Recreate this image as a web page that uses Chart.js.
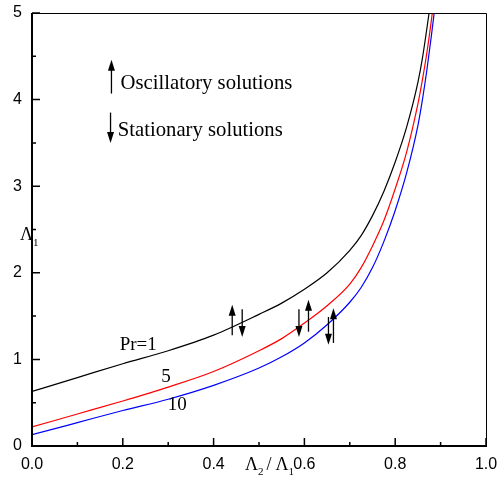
<!DOCTYPE html>
<html lang="en">
<head>
<meta charset="UTF-8">
<title>Lambda1 vs Lambda2 / Lambda1</title>
<script src="https://cdn.jsdelivr.net/npm/chart.js"></script>
<style>
  html, body { margin: 0; padding: 0; background: #fff; }
  #wrap { width: 499px; height: 479px; }
</style>
</head>
<body>
<div id="wrap"><canvas id="stability"></canvas></div>
<script>
// abscissa: Lambda2 / Lambda1
const ratio = [0, 0.1, 0.2, 0.3, 0.4, 0.5, 0.55, 0.6, 0.65, 0.7, 0.725, 0.75, 0.775, 0.8, 0.825, 0.85, 0.86, 0.87, 0.88, 0.89];
// Lambda1 for each Prandtl number
const prOne  = [0.63, 0.79, 0.95, 1.10, 1.28, 1.52, 1.65, 1.81, 2.00, 2.26, 2.43, 2.66, 2.94, 3.28, 3.68, 4.20, 4.48, 4.83, 5.20, 5.60];
const prFive = [0.22, 0.37, 0.52, 0.68, 0.86, 1.10, 1.24, 1.42, 1.62, 1.87, 2.06, 2.31, 2.60, 2.97, 3.39, 3.95, 4.23, 4.55, 4.93, 5.35];
const prTen  = [0.13, 0.27, 0.41, 0.54, 0.70, 0.90, 1.03, 1.19, 1.40, 1.66, 1.83, 2.06, 2.36, 2.72, 3.15, 3.70, 4.00, 4.35, 4.75, 5.18];

const xTicks = [0, 0.2, 0.4, 0.6, 0.8, 1.0];
const yTicks = [0, 1, 2, 3, 4, 5];

// arrows: [x, tail y, tip y]
const arrowMarks = [
  [0.441, 1.28, 1.63], [0.463, 1.58, 1.26],
  [0.588, 1.58, 1.26], [0.609, 1.32, 1.69],
  [0.653, 1.49, 1.17], [0.664, 1.19, 1.59]
];
const keyArrows = [[0.175, 4.07, 4.46], [0.173, 3.85, 3.50]];
const keyTexts = [['Oscillatory solutions', 0.195, 4.18], ['Stationary solutions', 0.189, 3.64]];
const curveLabels = [['Pr=1', 0.234, 1.17], ['5', 0.295, 0.80], ['10', 0.32, 0.47]];

function pts(ys) { return ratio.map((x, i) => ({ x: x, y: ys[i] })); }

function arrow(ctx, x, y0, y1) {
  const dir = Math.sign(y1 - y0);
  ctx.beginPath();
  ctx.moveTo(x, y0);
  ctx.lineTo(x, y1 - dir * 8);
  ctx.stroke();
  ctx.beginPath();
  ctx.moveTo(x, y1);
  ctx.lineTo(x - 3.5, y1 - dir * 11);
  ctx.lineTo(x + 3.5, y1 - dir * 11);
  ctx.closePath();
  ctx.fill();
}

const frame = {
  id: 'frame',
  afterDraw(chart) {
    const ctx = chart.ctx, a = chart.chartArea;
    const xs = chart.scales.x, ys = chart.scales.y;
    ctx.save();
    ctx.strokeStyle = '#000';
    ctx.fillStyle = '#000';

    // thin top / right border
    ctx.lineWidth = 1;
    ctx.beginPath();
    ctx.moveTo(a.left, a.top + 0.5);
    ctx.lineTo(a.right + 0.5, a.top + 0.5);
    ctx.lineTo(a.right + 0.5, a.bottom);
    ctx.stroke();

    // heavier left / bottom axes
    ctx.lineWidth = 2;
    ctx.beginPath();
    ctx.moveTo(a.left, a.top);
    ctx.lineTo(a.left, a.bottom);
    ctx.lineTo(a.right + 1, a.bottom);
    ctx.stroke();

    // inward ticks, majors and halfway minors
    ctx.lineWidth = 1.5;
    ctx.beginPath();
    for (let i = 0; i < xTicks.length; i++) {
      const px = xs.getPixelForValue(xTicks[i]);
      ctx.moveTo(px, a.bottom); ctx.lineTo(px, a.bottom - 8);
      if (i < xTicks.length - 1) {
        const pm = xs.getPixelForValue((xTicks[i] + xTicks[i + 1]) / 2);
        ctx.moveTo(pm, a.bottom); ctx.lineTo(pm, a.bottom - 4);
      }
    }
    for (let i = 0; i < yTicks.length; i++) {
      const py = ys.getPixelForValue(yTicks[i]);
      ctx.moveTo(a.left, py); ctx.lineTo(a.left + 8, py);
      if (i < yTicks.length - 1) {
        const pm = ys.getPixelForValue((yTicks[i] + yTicks[i + 1]) / 2);
        ctx.moveTo(a.left, pm); ctx.lineTo(a.left + 4, pm);
      }
    }
    ctx.stroke();

    // arrows
    ctx.lineWidth = 1.3;
    arrowMarks.concat(keyArrows).forEach(m => {
      arrow(ctx, xs.getPixelForValue(m[0]), ys.getPixelForValue(m[1]), ys.getPixelForValue(m[2]));
    });

    // key texts and curve labels
    ctx.textBaseline = 'middle';
    ctx.textAlign = 'left';
    ctx.font = '20.7px "Liberation Serif", "Times New Roman", serif';
    keyTexts.forEach(t => ctx.fillText(t[0], xs.getPixelForValue(t[1]), ys.getPixelForValue(t[2])));
    ctx.textAlign = 'center';
    ctx.font = '19px "Liberation Serif", "Times New Roman", serif';
    curveLabels.forEach(t => ctx.fillText(t[0], xs.getPixelForValue(t[1]), ys.getPixelForValue(t[2])));

    // axis titles with subscripts
    ctx.textAlign = 'left';
    ctx.textBaseline = 'alphabetic';
    const big = '18px "Liberation Serif", "Times New Roman", serif';
    const sub = '11px "Liberation Serif", "Times New Roman", serif';
    let tx = xs.getPixelForValue(0.469), ty = a.bottom + 24;
    ctx.font = big; ctx.fillText('\u039B', tx, ty); tx += ctx.measureText('\u039B').width;
    ctx.font = sub; ctx.fillText('2', tx, ty + 5); tx += ctx.measureText('2').width + 3;
    ctx.font = big; ctx.fillText('/', tx, ty); tx += ctx.measureText('/').width + 4;
    ctx.fillText('\u039B', tx, ty); tx += ctx.measureText('\u039B').width;
    ctx.font = sub; ctx.fillText('1', tx, ty + 5);

    let lx = a.left - 12, ly = ys.getPixelForValue(2.38);
    ctx.font = big; ctx.fillText('\u039B', lx, ly); lx += ctx.measureText('\u039B').width;
    ctx.font = sub; ctx.fillText('1', lx, ly + 6);
    ctx.restore();
  }
};

const line = (ys, color) => ({
  data: pts(ys),
  borderColor: color,
  borderWidth: 1.2,
  pointRadius: 0,
  fill: false,
  showLine: true,
  cubicInterpolationMode: 'monotone'
});

new Chart(document.getElementById('stability'), {
  type: 'scatter',
  data: {
    datasets: [line(prOne, '#000000'), line(prFive, '#ff0000'), line(prTen, '#0000ff')]
  },
  options: {
    responsive: true,
    maintainAspectRatio: false,
    animation: false,
    layout: { padding: { top: 13, right: 13, left: 0, bottom: 0 } },
    plugins: { legend: { display: false }, tooltip: { enabled: false } },
    scales: {
      x: {
        type: 'linear', min: 0, max: 1,
        grid: { display: false, drawTicks: false },
        border: { display: false },
        afterBuildTicks: s => { s.ticks = xTicks.map(v => ({ value: v })); },
        afterFit: s => { s.height = 33; s.paddingLeft = 0; s.paddingRight = 0; },
        ticks: {
          padding: 9, color: '#000',
          font: { family: '"Liberation Sans", Arial, sans-serif', size: 16 },
          callback: v => Number(v).toFixed(1)
        }
      },
      y: {
        type: 'linear', min: 0, max: 5,
        grid: { display: false, drawTicks: false },
        border: { display: false },
        afterBuildTicks: s => { s.ticks = yTicks.map(v => ({ value: v })); },
        afterFit: s => { s.width = 32; s.paddingTop = 0; s.paddingBottom = 0; },
        ticks: {
          padding: 10, color: '#000',
          font: { family: '"Liberation Sans", Arial, sans-serif', size: 16 },
          callback: v => String(v)
        }
      }
    }
  },
  plugins: [frame]
});
</script>
</body>
</html>
